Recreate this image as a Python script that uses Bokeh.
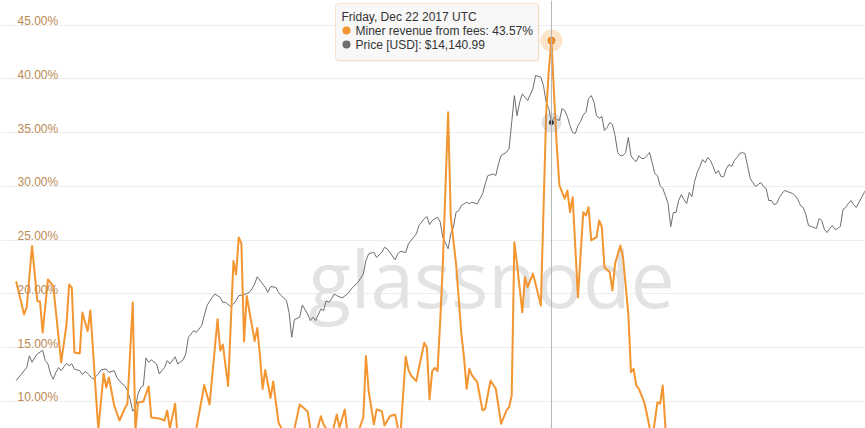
import pandas as pd
from bokeh.plotting import figure
from bokeh.models import Range1d, LogScale, Label, BoxAnnotation, Span, Grid, FixedTicker
from bokeh.embed import file_html
from bokeh.resources import INLINE

# ---------------- data ----------------
fee_dates = [
    "2017-06-03", "2017-06-06", "2017-06-07", "2017-06-09", "2017-06-11", "2017-06-12", "2017-06-13",
    "2017-06-15", "2017-06-17", "2017-06-20", "2017-06-22", "2017-06-23", "2017-06-24", "2017-06-25",
    "2017-06-27", "2017-06-28", "2017-06-30", "2017-07-01", "2017-07-04", "2017-07-06", "2017-07-07",
    "2017-07-08", "2017-07-10", "2017-07-12", "2017-07-14", "2017-07-15", "2017-07-17", "2017-07-18",
    "2017-07-19", "2017-07-21", "2017-07-23", "2017-07-24", "2017-07-27", "2017-07-29", "2017-07-30",
    "2017-07-31", "2017-08-02", "2017-08-03", "2017-08-06", "2017-08-10", "2017-08-13", "2017-08-15",
    "2017-08-18", "2017-08-19", "2017-08-20", "2017-08-22", "2017-08-24", "2017-08-25", "2017-08-26",
    "2017-08-27", "2017-08-28", "2017-08-29", "2017-09-01", "2017-09-02", "2017-09-03", "2017-09-04",
    "2017-09-05", "2017-09-07", "2017-09-08", "2017-09-10", "2017-09-12", "2017-09-15", "2017-09-18",
    "2017-09-21", "2017-09-22", "2017-09-24", "2017-09-26", "2017-09-27", "2017-09-30", "2017-10-02",
    "2017-10-03", "2017-10-05", "2017-10-06", "2017-10-09", "2017-10-12", "2017-10-13", "2017-10-14",
    "2017-10-16", "2017-10-17", "2017-10-19", "2017-10-20", "2017-10-22", "2017-10-24", "2017-10-25",
    "2017-10-26", "2017-10-28", "2017-10-29", "2017-10-30", "2017-11-01", "2017-11-02", "2017-11-04",
    "2017-11-05", "2017-11-06", "2017-11-07", "2017-11-08", "2017-11-09", "2017-11-10", "2017-11-11",
    "2017-11-13", "2017-11-14", "2017-11-16", "2017-11-18", "2017-11-19", "2017-11-20", "2017-11-21",
    "2017-11-22", "2017-11-24", "2017-11-26", "2017-11-27", "2017-11-29", "2017-12-01", "2017-12-03",
    "2017-12-05", "2017-12-06", "2017-12-07", "2017-12-08", "2017-12-09", "2017-12-11", "2017-12-12",
    "2017-12-13", "2017-12-15", "2017-12-16", "2017-12-18", "2017-12-20", "2017-12-21", "2017-12-22",
    "2017-12-23", "2017-12-24", "2017-12-25", "2017-12-27", "2017-12-28", "2017-12-29", "2017-12-30",
    "2018-01-01", "2018-01-03", "2018-01-04", "2018-01-05", "2018-01-06", "2018-01-08", "2018-01-09",
    "2018-01-10", "2018-01-11", "2018-01-13", "2018-01-14", "2018-01-15", "2018-01-17", "2018-01-18",
    "2018-01-20", "2018-01-21", "2018-01-22", "2018-01-23", "2018-01-24", "2018-01-26", "2018-01-27",
    "2018-01-28", "2018-01-29", "2018-01-31", "2018-02-01", "2018-02-02", "2018-02-03", "2018-02-04",
    "2018-02-10", "2018-02-20", "2018-03-03", "2018-03-15", "2018-03-28", "2018-04-10", "2018-04-20",
]
fee_pct = [
    21.19, 18.09, 18.77, 24.47, 19.33, 19.30, 16.42,
    21.35, 20.73, 13.63, 17.16, 20.88, 20.60, 14.56,
    14.47, 18.28, 16.54, 18.47, 7.40, 12.60, 11.30,
    12.23, 9.63, 8.23, 9.35, 9.81, 19.21, 7.30,
    9.90, 10.00, 11.40, 8.51, 8.42, 8.23, 9.16,
    7.50, 9.79, 6.40, 6.00, 7.50, 11.53, 9.72,
    17.66, 14.74, 15.30, 11.44, 23.07, 21.81, 25.26,
    24.70, 15.58, 19.81, 15.63, 16.84, 14.28, 11.16,
    12.93, 10.33, 11.86, 8.05, 7.10, 6.30, 9.72,
    9.07, 7.50, 6.80, 8.63, 7.86, 6.80, 8.79,
    7.58, 9.26, 7.10, 6.40, 8.51, 14.23, 11.02,
    7.86, 9.26, 9.10, 7.77, 8.63, 8.79, 7.58,
    6.80, 14.19, 12.98, 12.42, 11.89, 13.13, 15.46,
    15.00, 10.19, 12.82, 13.13, 12.82, 17.35, 22.74,
    36.91, 27.14, 22.81, 16.30, 14.12, 11.18, 13.04,
    12.42, 11.80, 9.16, 9.32, 11.95, 11.18, 7.93,
    9.16, 9.47, 10.56, 24.82, 22.81, 18.31, 21.56,
    20.63, 21.88, 20.95, 18.93, 36.79, 40.80, 43.57,
    38.47, 33.80, 30.10, 28.86, 29.63, 27.61, 29.00,
    19.70, 27.61, 27.30, 28.07, 24.98, 25.28, 26.84,
    26.21, 22.49, 22.03, 20.33, 22.81, 24.51, 23.42,
    18.16, 12.73, 13.04, 11.49, 11.18, 9.93, 8.86,
    7.60, 6.40, 9.93, 9.79, 11.49, 7.60, 5.50,
    4.60, 3.90, 3.20, 2.70, 2.30, 2.10, 1.90,
]

price_dates = [
    "2017-06-03", "2017-06-05", "2017-06-07", "2017-06-08", "2017-06-09", "2017-06-10", "2017-06-11",
    "2017-06-13", "2017-06-14", "2017-06-15", "2017-06-16", "2017-06-17", "2017-06-18", "2017-06-19",
    "2017-06-20", "2017-06-22", "2017-06-23", "2017-06-24", "2017-06-25", "2017-06-27", "2017-06-28",
    "2017-06-29", "2017-06-30", "2017-07-02", "2017-07-04", "2017-07-05", "2017-07-07", "2017-07-08",
    "2017-07-10", "2017-07-11", "2017-07-13", "2017-07-14", "2017-07-15", "2017-07-16", "2017-07-17",
    "2017-07-18", "2017-07-19", "2017-07-20", "2017-07-21", "2017-07-22", "2017-07-23", "2017-07-24",
    "2017-07-26", "2017-07-27", "2017-07-29", "2017-07-30", "2017-07-31", "2017-08-02", "2017-08-03",
    "2017-08-05", "2017-08-06", "2017-08-07", "2017-08-08", "2017-08-09", "2017-08-10", "2017-08-12",
    "2017-08-13", "2017-08-14", "2017-08-16", "2017-08-17", "2017-08-19", "2017-08-20", "2017-08-21",
    "2017-08-23", "2017-08-24", "2017-08-25", "2017-08-26", "2017-08-28", "2017-08-30", "2017-08-31",
    "2017-09-01", "2017-09-02", "2017-09-04", "2017-09-05", "2017-09-06", "2017-09-07", "2017-09-09",
    "2017-09-10", "2017-09-11", "2017-09-13", "2017-09-14", "2017-09-15", "2017-09-16", "2017-09-18",
    "2017-09-19", "2017-09-21", "2017-09-22", "2017-09-23", "2017-09-24", "2017-09-26", "2017-09-27",
    "2017-09-28", "2017-09-29", "2017-09-30", "2017-10-01", "2017-10-02", "2017-10-04", "2017-10-06",
    "2017-10-08", "2017-10-10", "2017-10-12", "2017-10-13", "2017-10-14", "2017-10-16", "2017-10-17",
    "2017-10-19", "2017-10-20", "2017-10-21", "2017-10-22", "2017-10-24", "2017-10-25", "2017-10-26",
    "2017-10-28", "2017-10-29", "2017-11-01", "2017-11-02", "2017-11-04", "2017-11-05", "2017-11-06",
    "2017-11-07", "2017-11-09", "2017-11-10", "2017-11-11", "2017-11-13", "2017-11-14", "2017-11-15",
    "2017-11-16", "2017-11-17", "2017-11-18", "2017-11-20", "2017-11-21", "2017-11-22", "2017-11-24",
    "2017-11-26", "2017-11-27", "2017-11-28", "2017-11-30", "2017-12-01", "2017-12-02", "2017-12-03",
    "2017-12-05", "2017-12-06", "2017-12-07", "2017-12-08", "2017-12-09", "2017-12-10", "2017-12-11",
    "2017-12-12", "2017-12-13", "2017-12-15", "2017-12-16", "2017-12-18", "2017-12-19", "2017-12-20",
    "2017-12-21", "2017-12-22", "2017-12-23", "2017-12-24", "2017-12-25", "2017-12-26", "2017-12-27",
    "2017-12-28", "2017-12-29", "2017-12-30", "2017-12-31", "2018-01-01", "2018-01-02", "2018-01-03",
    "2018-01-04", "2018-01-05", "2018-01-06", "2018-01-07", "2018-01-08", "2018-01-09", "2018-01-10",
    "2018-01-11", "2018-01-12", "2018-01-13", "2018-01-14", "2018-01-15", "2018-01-16", "2018-01-17",
    "2018-01-18", "2018-01-19", "2018-01-20", "2018-01-21", "2018-01-22", "2018-01-23", "2018-01-24",
    "2018-01-25", "2018-01-26", "2018-01-27", "2018-01-28", "2018-01-29", "2018-01-30", "2018-01-31",
    "2018-02-01", "2018-02-02", "2018-02-03", "2018-02-04", "2018-02-05", "2018-02-06", "2018-02-07",
    "2018-02-08", "2018-02-09", "2018-02-10", "2018-02-11", "2018-02-12", "2018-02-13", "2018-02-14",
    "2018-02-15", "2018-02-16", "2018-02-17", "2018-02-18", "2018-02-19", "2018-02-20", "2018-02-21",
    "2018-02-22", "2018-02-23", "2018-02-24", "2018-02-25", "2018-02-26", "2018-02-27", "2018-02-28",
    "2018-03-01", "2018-03-02", "2018-03-03", "2018-03-04", "2018-03-05", "2018-03-06", "2018-03-07",
    "2018-03-08", "2018-03-09", "2018-03-10", "2018-03-11", "2018-03-12", "2018-03-13", "2018-03-14",
    "2018-03-15", "2018-03-16", "2018-03-17", "2018-03-18", "2018-03-19", "2018-03-20", "2018-03-21",
    "2018-03-22", "2018-03-23", "2018-03-24", "2018-03-25", "2018-03-26", "2018-03-27", "2018-03-28",
    "2018-03-29", "2018-03-30", "2018-03-31", "2018-04-01", "2018-04-02", "2018-04-03", "2018-04-04",
    "2018-04-05", "2018-04-06", "2018-04-07", "2018-04-08", "2018-04-09", "2018-04-10", "2018-04-11",
    "2018-04-12", "2018-04-13", "2018-04-14", "2018-04-15", "2018-04-16", "2018-04-17", "2018-04-18",
    "2018-04-19", "2018-04-20",
]
price_usd = [
    2677, 2794, 2913, 3142, 3012, 3107, 3178,
    3256, 3046, 2981, 2794, 2701, 2823, 2913,
    2855, 2993, 2947, 2981, 2882, 2855, 2781,
    2842, 2805, 2701, 2794, 2868, 2887, 2823,
    2855, 2731, 2620, 2590, 2510, 2375, 2197,
    2251, 2456, 2560, 2590, 3100, 3012, 3060,
    2981, 2794, 2913, 3046, 2981, 3121, 2981,
    3060, 3178, 3539, 3616, 3696, 3655, 3814,
    4070, 4342, 4581, 4680, 4581, 4435, 4435,
    4314, 4388, 4485, 4631, 4661, 4730, 4837,
    4994, 5231, 4994, 4887, 4730, 4908, 4887,
    4730, 4631, 4485, 4150, 3539, 3968, 4027,
    4360, 4115, 3942, 4027, 3942, 4251, 4205,
    4485, 4435, 4535, 4680, 4631, 4561, 4680,
    4887, 5047, 5326, 5806, 6061, 6126, 5924,
    6126, 6327, 6262, 6126, 5832, 6061, 6166,
    6113, 6465, 6895, 7275, 7599, 7711, 7321,
    7516, 7680, 7450, 6749, 6262, 6895, 7189,
    7928, 8017, 8273, 8457, 8367, 8457, 8367,
    8925, 9520, 10038, 10150, 10038, 10830, 11420,
    11674, 11934, 14167, 16819, 14781, 16117, 17011,
    16647, 16297, 17576, 19148, 18937, 17937, 16117,
    15477, 14140.99, 14651, 14418, 14325, 15477, 15278,
    14697, 13860, 13255, 13168, 13860, 14230, 14881,
    15080, 16509, 16819, 16191, 14781, 14511, 14697,
    13430, 13692, 14141, 13953, 12994, 11651, 11420,
    11420, 11651, 12839, 11420, 11139, 10995, 11420,
    11211, 11211, 11420, 11651, 10923, 10173, 10038,
    9413, 9240, 8825, 8384, 7229, 7913, 7913,
    8551, 8884, 8607, 8384, 9002, 8765, 9666,
    10240, 10645, 11139, 10923, 11283, 11067, 10645,
    10173, 10375, 9970, 9970, 10510, 10786, 10645,
    11067, 11283, 11574, 11651, 11574, 10707, 9855,
    9603, 9358, 9479, 9603, 9358, 9240, 8551,
    8551, 8329, 8384, 8718, 8944, 9121, 9062,
    9002, 8944, 8825, 8607, 8273, 8173, 7809,
    7272, 7229, 7185, 7138, 7614, 7516, 7092,
    6954, 7138, 7272, 7092, 7138, 7229, 8069,
    8173, 8384, 8551, 8329, 8173, 8440, 8718,
    9002, 9240,
]

hover_date = "2017-12-22"
hover_fee = 43.57
hover_price = 14140.99

pct_ticks = [10, 15, 20, 25, 30, 35, 40, 45]
pct_labels = ["10.00%", "15.00%", "20.00%", "25.00%", "30.00%", "35.00%", "40.00%", "45.00%"]

tooltip_title = "Friday, Dec 22 2017 UTC"
fee_name = "Miner revenue from fees"
price_name = "Price [USD]"

# ---------------- styling ----------------
ORANGE = "#f39530"
GREY = "#6e6e6e"
LABEL_ORANGE = "#bb8a52"
FONT = "Liberation Sans"
W, H = 865, 428

fee_x = pd.to_datetime(fee_dates)
price_x = pd.to_datetime(price_dates)
hover_x = pd.Timestamp(hover_date)
DAY = pd.Timedelta(days=1)

p = figure(
    width=W, height=H,
    x_axis_type="datetime",
    x_range=Range1d(start=hover_x - 207.9 * DAY, end=hover_x + 118.5 * DAY),
    y_range=Range1d(start=7.488, end=47.30),
    x_axis_location=None, y_axis_location=None,
    output_backend="svg", toolbar_location=None, tools="",
    min_border=0, min_border_left=0, min_border_right=0,
    min_border_top=0, min_border_bottom=0,
)
p.outline_line_color = None
p.background_fill_color = "white"
p.border_fill_color = "white"
for g in list(p.grid):
    g.visible = False

p.extra_y_ranges = {"price": Range1d(start=1966, end=31054)}
p.extra_y_scales = {"price": LogScale()}

# horizontal grid
p.add_layout(Grid(dimension=1, ticker=FixedTicker(ticks=pct_ticks),
                  grid_line_color="#eeeeee", grid_line_width=1))

# watermark
p.add_layout(Label(x=308, y=H - 277, x_units="screen", y_units="screen", text="glassnode",
                   text_font="Open Sans", text_font_size="78px",
                   text_color="#e3e3e3", text_baseline="alphabetic", level="underlay"))

# y tick labels drawn inside the plot area
for t, lbl in zip(pct_ticks, pct_labels):
    p.add_layout(Label(x=17, y=t, x_units="screen", y_units="data", text=lbl,
                       text_font=FONT, text_font_size="12px", text_color=LABEL_ORANGE,
                       text_baseline="alphabetic", y_offset=4))

# series
p.line(price_x, price_usd, y_range_name="price", line_color=GREY, line_width=1,
       line_join="round")
p.line(fee_x, fee_pct, line_color=ORANGE, line_width=2, line_join="round")

# crosshair
p.add_layout(Span(location=hover_x.value / 1e6, dimension="height",
                  line_color="#b5b5b5", line_width=1))

# hover markers
p.scatter([hover_x], [hover_fee], size=22, fill_color=ORANGE, fill_alpha=0.25, line_color=None)
p.scatter([hover_x], [hover_fee], size=7, fill_color=ORANGE, line_color="#e07f1a", line_width=1)
p.scatter([hover_x], [hover_price], y_range_name="price", size=20, fill_color="#888888",
          fill_alpha=0.25, line_color=None)
p.scatter([hover_x], [hover_price], y_range_name="price", size=5, fill_color="#333333",
          line_color=None)

# tooltip (screen units, y measured from the bottom of the frame)
def sbox(left, right, top, bottom, **kw):
    return BoxAnnotation(left=left, right=right, top=H - top, bottom=H - bottom,
                         left_units="screen", right_units="screen",
                         top_units="screen", bottom_units="screen", **kw)

p.add_layout(sbox(336, 539, 4, 61, fill_color="#000000", fill_alpha=0.06,
                  line_color=None, border_radius=3))
p.add_layout(sbox(335, 538, 3, 60, fill_color="#f8f8f8", fill_alpha=0.95,
                  line_color="#f4a24c", line_width=1, border_radius=3))
p.add_layout(Label(x=341, y=H - 16, x_units="screen", y_units="screen", text=tooltip_title,
                   text_font=FONT, text_font_size="12px", text_color="#333333",
                   text_baseline="middle"))
p.add_layout(sbox(342, 350, 26, 34, fill_color=ORANGE, fill_alpha=1, line_color=None,
                  border_radius=4))
p.add_layout(Label(x=355, y=H - 30, x_units="screen", y_units="screen",
                   text=f"{fee_name}: {hover_fee:.2f}%",
                   text_font=FONT, text_font_size="12px", text_color="#333333",
                   text_baseline="middle"))
p.add_layout(sbox(342, 350, 40, 48, fill_color="#6e6e6e", fill_alpha=1, line_color=None,
                  border_radius=4))
p.add_layout(Label(x=355, y=H - 44, x_units="screen", y_units="screen",
                   text=f"{price_name}: ${hover_price:,.2f}",
                   text_font=FONT, text_font_size="12px", text_color="#333333",
                   text_baseline="middle"))

open("out.html", "w").write(file_html(p, INLINE))
